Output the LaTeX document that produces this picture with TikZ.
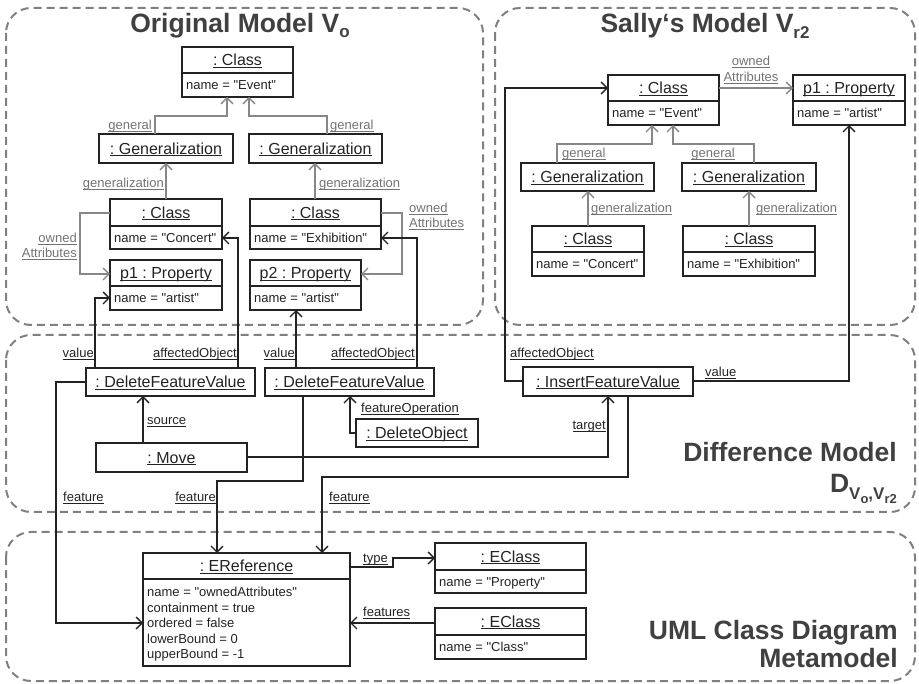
\documentclass[tikz,border=0pt]{standalone}
\usepackage{fontspec}
\setmainfont{Liberation Sans}
\newfontfamily\libsans{Liberation Sans}
\usetikzlibrary{arrows.meta,fit,calc}
\definecolor{boxc}{RGB}{35,35,35}
\definecolor{conng}{RGB}{135,135,135}
\definecolor{glabc}{RGB}{115,115,115}
\definecolor{contc}{RGB}{128,128,128}
\definecolor{titlec}{RGB}{64,64,64}
\frenchspacing
\newcommand\myul[1]{\setbox0\hbox{#1}\rlap{\rule[-2pt]{\wd0}{0.9pt}}\box0}
\tikzset{
  objbox/.style={draw=boxc, line width=1.3pt, inner sep=0pt, outer sep=0pt, fill=white},
  sepline/.style={draw=boxc, line width=1.3pt},
  hdr/.style={font=\libsans\fontsize{16}{19}\selectfont, text=boxc, inner sep=0pt, text height=11.5pt, text depth=0pt},
  attr/.style={font=\libsans\fontsize{13}{15}\selectfont, text=boxc, inner sep=0pt, text height=9.3pt, text depth=0pt, anchor=west},
  glab/.style={font=\libsans\fontsize{13}{15}\selectfont, text=glabc, inner sep=0pt, text height=9.3pt, text depth=0pt},
  blab/.style={font=\libsans\fontsize{13}{15}\selectfont, text=boxc, inner sep=0pt, text height=9.3pt, text depth=0pt},
  garrow/.style={draw=conng, line width=1.4pt, -{Straight Barb[length=6pt,width=12pt]}},
  barrow/.style={draw=boxc, line width=1.4pt, -{Straight Barb[length=6pt,width=12pt]}},
  container/.style={draw=contc, line width=2pt, dash pattern=on 8pt off 5pt, rounded corners=25pt},
  ttl/.style={font=\libsans\bfseries\fontsize{26.5}{30}\selectfont, text=titlec, inner sep=0pt}
}
% name, x1, y1, x2, y2, ysep, header, attribute
\newcommand\umlobj[8]{%
  \node[objbox, fit={(#2,#3) (#4,#5)}] (#1) {};
  \draw[sepline] (#2,#6) -- (#4,#6);
  \node[hdr] at ({(#2+#4)/2},{(#3+#6)/2}) {\myul{#7}};
  \node[attr] at ({#2+4},{(#6+#5)/2}) {#8};
}
% name, x1, y1, x2, y2, header
\newcommand\umlsimple[6]{%
  \node[objbox, fit={(#2,#3) (#4,#5)}] (#1) {};
  \node[hdr] at ({(#2+#4)/2},{(#3+#5)/2}) {\myul{#6}};
}
\begin{document}
\begin{tikzpicture}[x=1pt,y=-1pt]
\useasboundingbox (0,0) rectangle (919,684);
% containers
\draw[container] (6,8) rectangle (483,325);
\draw[container] (495,8) rectangle (915,325);
\draw[container] (6,335) rectangle (915,512);
\draw[container] (6,532) rectangle (915,681);
% titles
\node[ttl, anchor=base] (t1) at (240,33) {Original Model V\raisebox{-5pt}{\fontsize{17}{17}\selectfont o}};
\node[ttl, anchor=base] (t2) at (705,33) {Sally‘s Model V\raisebox{-6pt}{\fontsize{17}{17}\selectfont r2}};
\node[ttl, anchor=base east] (t3) at (897,462) {Difference Model};
\node[ttl, anchor=base east] (t3b) at (897,493) {D\raisebox{-7pt}{\fontsize{17}{17}\selectfont V\raisebox{-4pt}{\fontsize{13}{13}\selectfont o},V\raisebox{-4pt}{\fontsize{13}{13}\selectfont r2}}};
\node[ttl, anchor=base east] (t4) at (898,639) {UML Class Diagram};
\node[ttl, anchor=base east] (t4b) at (898,667) {Metamodel};
% Original model
\umlobj{ev}{182}{47}{293}{97}{73}{: Class}{name = "Event"}
\umlsimple{gL}{99}{134}{233}{163}{: Generalization}
\umlsimple{gR}{249}{134}{382}{163}{: Generalization}
\umlobj{cC}{110}{199}{222}{249}{226}{: Class}{name = "Concert"}
\umlobj{cE}{250}{199}{381}{249}{226}{: Class}{name = "Exhibition"}
\umlobj{p1}{110}{260}{222}{310}{286}{p1 : Property}{name = "artist"}
\umlobj{p2}{250}{260}{361}{310}{286}{p2 : Property}{name = "artist"}
% Sally's model
\umlobj{sev}{608}{75}{719}{125}{101}{: Class}{name = "Event"}
\umlobj{sp1}{793}{75}{905}{125}{101}{p1 : Property}{name = "artist"}
\umlsimple{sgL}{521}{163}{654}{191}{: Generalization}
\umlsimple{sgR}{682}{163}{816}{191}{: Generalization}
\umlobj{scC}{532}{226}{644}{276}{252}{: Class}{name = "Concert"}
\umlobj{scE}{683}{226}{815}{276}{252}{: Class}{name = "Exhibition"}
% Difference model
\umlsimple{d1}{86}{368}{255}{396}{: DeleteFeatureValue}
\umlsimple{d2}{265}{368}{434}{396}{: DeleteFeatureValue}
\umlsimple{dobj}{356}{419}{478}{447}{: DeleteObject}
\umlsimple{mv}{96}{443}{247}{472}{: Move}
\umlsimple{ifv}{523}{367}{693}{396}{: InsertFeatureValue}
% Metamodel
\node[objbox, fit={(143,553) (350,666)}] (er) {};
\draw[sepline] (143,579) -- (350,579);
\node[hdr] at (246.5,566) {\myul{: EReference}};
\foreach \yy/\tt in {592/{name = "ownedAttributes"},607.5/{containment = true},623/{ordered = false},638.5/{lowerBound = 0},654/{upperBound = -1}}
  \node[attr] at (147,\yy) {\tt};
\umlobj{ec1}{435}{543}{586}{593}{570}{: EClass}{name = "Property"}
\umlobj{ec2}{435}{608}{586}{659}{635}{: EClass}{name = "Class"}
% gray connectors, original
\draw[garrow] (gL.north -| 155,0) |- (227,116) -- (ev.south -| 227,0);
\draw[garrow] (gR.north -| 327,0) |- (249,116) -- (ev.south -| 249,0);
\draw[garrow] (cC.north -| 166,0) -- (gL.south -| 166,0);
\draw[garrow] (cE.north -| 315,0) -- (gR.south -| 315,0);
\draw[garrow] (cC.west |- 0,213) -| (80,274) -- (p1.west |- 0,274);
\draw[garrow] (cE.east |- 0,213) -| (402,274) -- (p2.east |- 0,274);
\node[glab, anchor=east] at (152,125) {\myul{general}};
\node[glab, anchor=west] at (330,125) {\myul{general}};
\node[glab, anchor=east] at (164,183) {\myul{generalization}};
\node[glab, anchor=west] at (319,183) {\myul{generalization}};
\node[glab, anchor=east] at (77,238) {\myul{owned}};
\node[glab, anchor=east] at (77,253) {\myul{Attributes}};
\node[glab, anchor=west] at (409,208) {\myul{owned}};
\node[glab, anchor=west] at (409,223) {\myul{Attributes}};
% gray connectors, Sally
\draw[garrow] (sgL.north -| 557,0) |- (652,144) -- (sev.south -| 652,0);
\draw[garrow] (sgR.north -| 754,0) |- (673,144) -- (sev.south -| 673,0);
\draw[garrow] (scC.north -| 588,0) -- (sgL.south -| 588,0);
\draw[garrow] (scE.north -| 749,0) -- (sgR.south -| 749,0);
\draw[garrow] (sev.east |- 0,88) -- (sp1.west |- 0,88);
\node[glab] at (751,61) {\myul{owned}};
\node[glab] at (751,77) {\myul{Attributes}};
\node[glab, anchor=west] at (562,153) {\myul{general}};
\node[glab, anchor=east] at (735,153) {\myul{general}};
\node[glab, anchor=west] at (591,208) {\myul{generalization}};
\node[glab, anchor=west] at (756,208) {\myul{generalization}};
% black connectors
\draw[barrow] (d1.north -| 95,0) |- (p1.west |- 0,298);
\draw[barrow] (d1.north -| 238,0) |- (cC.east |- 0,238);
\draw[barrow] (d2.north -| 296,0) -- (p2.south -| 296,0);
\draw[barrow] (d2.north -| 417,0) |- (cE.east |- 0,238);
\draw[barrow] (dobj.west |- 0,433) -| (d2.south -| 350,0);
\draw[barrow] (mv.north -| 143,0) -- (d1.south -| 143,0);
\draw[barrow] (mv.east |- 0,457) -| (ifv.south -| 608,0);
\draw[barrow] (ifv.west |- 0,381) -| (505,88) -- (sev.west |- 0,88);
\draw[barrow] (ifv.east |- 0,381) -| (sp1.south -| 849,0);
\draw[barrow] (ifv.south -| 628,0) |- (322,477) -- (er.north -| 322,0);
\draw[barrow] (d2.south -| 303,0) |- (217,481) -- (er.north -| 217,0);
\draw[barrow] (d1.west |- 0,382) -| (56,623) -- (er.west |- 0,623);
\draw[barrow] (er.east |- 0,567) -- (393,567) -- (393,558) -- (ec1.west |- 0,558);
\draw[barrow] (ec2.west |- 0,623) -- (er.east |- 0,623);
\node[blab, anchor=east] at (94,353) {\myul{value}};
\node[blab, anchor=east] at (237,353) {\myul{affectedObject}};
\node[blab, anchor=east] at (295,353) {\myul{value}};
\node[blab, anchor=east] at (415,353) {\myul{affectedObject}};
\node[blab, anchor=west] at (361,408) {\myul{featureOperation}};
\node[blab, anchor=west] at (147,420) {\myul{source}};
\node[blab, anchor=east] at (606,425) {\myul{target}};
\node[blab, anchor=west] at (510,353) {\myul{affectedObject}};
\node[blab, anchor=west] at (705,372) {\myul{value}};
\node[blab, anchor=west] at (63,497) {\myul{feature}};
\node[blab, anchor=east] at (216,497) {\myul{feature}};
\node[blab, anchor=west] at (329,497) {\myul{feature}};
\node[blab, anchor=west] at (363,558) {\myul{type}};
\node[blab, anchor=west] at (363,612) {\myul{features}};
\end{tikzpicture}
\end{document}
